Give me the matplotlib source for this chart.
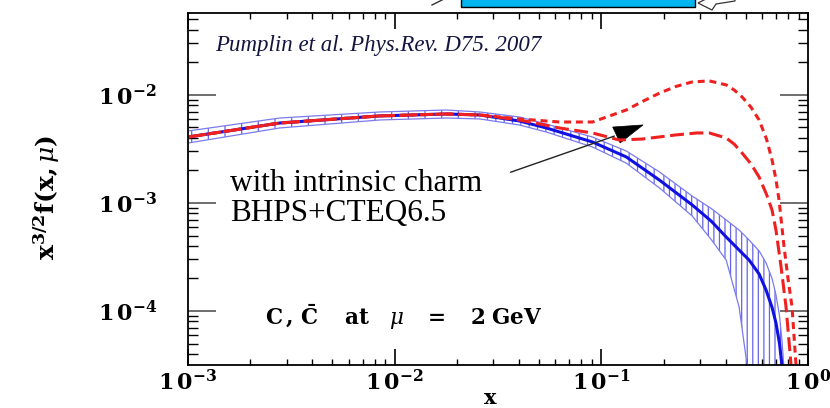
import matplotlib
matplotlib.use("Agg")
import matplotlib.pyplot as plt
from matplotlib.ticker import LogLocator, NullFormatter, FuncFormatter
from matplotlib.patches import Rectangle, Polygon
import numpy as np

# CTEQ6.5 charm distribution x^{3/2} c(x, mu) at mu = 2 GeV, with uncertainty band
x_cteq = [1.0e-3, 2.78e-3, 8.47e-3, 1.78e-2, 2.58e-2, 4.02e-2, 5.42e-2, 9.06e-2,
          0.132, 0.191, 0.275, 0.340, 0.402, 0.464, 0.519, 0.580, 0.627, 0.670, 0.700, 0.728, 0.748, 0.77]
f_cteq = [4.08e-3, 5.5e-3, 6.4e-3, 6.67e-3, 6.53e-3, 5.74e-3, 4.95e-3, 3.67e-3,
          2.67e-3, 1.63e-3, 9.6e-4, 6.8e-4, 4.84e-4, 3.67e-4, 2.96e-4, 2.2e-4, 1.56e-4, 1.08e-4,
          7.74e-5, 5.0e-5, 3.16e-5, 1.2e-5]
f_cteq_hi = [4.64e-3, 6.12e-3, 6.96e-3, 7.26e-3, 6.96e-3, 6.25e-3, 5.38e-3, 4.08e-3,
             3.03e-3, 1.94e-3, 1.16e-3, 8.9e-4, 6.96e-4, 5.62e-4, 4.54e-4, 3.6e-4, 2.78e-4, 2.0e-4,
             1.41e-4, 9.0e-5, 5.4e-5, 2.5e-5]
f_cteq_lo = [3.59e-3, 4.95e-3, 5.87e-3, 6.12e-3, 6.0e-3, 5.27e-3, 4.54e-3, 3.30e-3,
             2.34e-3, 1.38e-3, 7.59e-4, 4.6e-4, 2.96e-4, 1.09e-4, 2.3e-5, 1e-6, 1e-6, 1e-6,
             1e-6, 1e-6, 1e-6, 1e-6]

# BHPS intrinsic charm added to CTEQ6.5 (larger normalisation)
x_bhps_big = [1e-3, 2.78e-3, 8.47e-3, 1.78e-2, 2.58e-2, 4.02e-2, 6.27e-2, 9.06e-2, 0.132,
              0.160, 0.191, 0.230, 0.275, 0.333, 0.402, 0.440, 0.480, 0.530, 0.580, 0.630,
              0.670, 0.700, 0.724, 0.766, 0.800, 0.837, 0.875, 0.89]
f_bhps_big = [4.08e-3, 5.5e-3, 6.4e-3, 6.67e-3, 6.53e-3, 6.0e-3, 5.62e-3, 5.62e-3, 7.26e-3,
              8.8e-3, 1.04e-2, 1.20e-2, 1.32e-2, 1.35e-2, 1.24e-2, 1.11e-2, 9.58e-3, 7.7e-3,
              5.87e-3, 3.9e-3, 2.50e-3, 1.65e-3, 1.07e-3, 3.92e-4, 2.0e-4, 1.09e-4, 3.16e-5, 1.0e-5]

# BHPS intrinsic charm added to CTEQ6.5 (smaller normalisation)
x_bhps_small = [1e-3, 2.78e-3, 8.47e-3, 1.78e-2, 2.58e-2, 4.02e-2, 6.27e-2, 9.06e-2, 0.122,
                0.158, 0.230, 0.290, 0.333, 0.402, 0.440, 0.480, 0.530, 0.580, 0.630, 0.670,
                0.700, 0.740, 0.783, 0.828, 0.84]
f_bhps_small = [4.08e-3, 5.5e-3, 6.4e-3, 6.67e-3, 6.53e-3, 5.87e-3, 4.95e-3, 4.45e-3, 3.83e-3,
                3.91e-3, 4.27e-3, 4.45e-3, 4.45e-3, 4.0e-3, 3.5e-3, 2.90e-3, 2.3e-3, 1.74e-3,
                1.2e-3, 8.6e-4, 5.6e-4, 2.6e-4, 1.09e-4, 3.16e-5, 1.0e-5]

plt.rcParams["mathtext.fontset"] = "dejavuserif"
plt.rcParams["lines.scale_dashes"] = False
plt.rcParams["hatch.linewidth"] = 0.9

W, H = 830, 408
fig = plt.figure(figsize=(W / 100, H / 100), dpi=100)
ax = fig.add_axes([188 / W, 1 - 365 / H, 620 / W, 352 / H])
ax.set_xscale("log")
ax.set_yscale("log")
ax.set_xlim(1e-3, 1.0)
ax.set_ylim(10 ** -4.5, 10 ** -1.241)

blue = "#1010e0"
band_col = "#4a4ae6"
red = "#ee2020"

# uncertainty band, hatched with vertical lines (denser towards large x)
xa = np.array(x_cteq)
lo = np.array(f_cteq_lo)
hi = np.array(f_cteq_hi)
segments = [(0, 5, "|"), (4, 10, "||"), (9, len(xa), "|||")]
for i0, i1, h in segments:
    ax.fill_between(xa[i0:i1], lo[i0:i1], hi[i0:i1], facecolor="none",
                    edgecolor=band_col, hatch=h, linewidth=0, alpha=0.85)
ax.plot(xa, hi, color="#7b7bef", lw=0.9)
ax.plot(xa, lo, color="#7b7bef", lw=0.9)
ax.plot(x_cteq, f_cteq, color=blue, lw=2.2, solid_capstyle="butt")

ax.plot(x_bhps_small, f_bhps_small, color=red, lw=2.2, dashes=(10, 4))
ax.plot(x_bhps_big, f_bhps_big, color=red, lw=2.2, dashes=(5, 3.5))

# axes frame and ticks
for s in ax.spines.values():
    s.set_linewidth(1.3)
ax.xaxis.set_major_locator(LogLocator(base=10, numticks=10))
ax.xaxis.set_minor_locator(LogLocator(base=10, subs=np.arange(2, 10), numticks=20))
ax.yaxis.set_major_locator(LogLocator(base=10, numticks=10))
ax.yaxis.set_minor_locator(LogLocator(base=10, subs=np.arange(2, 10), numticks=20))
ax.xaxis.set_minor_formatter(NullFormatter())
ax.yaxis.set_minor_formatter(NullFormatter())
fmt = FuncFormatter(lambda v, p: r"$\mathbf{1\,0^{%d}}$" % int(round(np.log10(v))))
ax.xaxis.set_major_formatter(fmt)
ax.yaxis.set_major_formatter(fmt)
ax.tick_params(axis="x", which="major", direction="in", length=11.5, width=1.2,
               top=True, bottom=True, labelsize=16, pad=3)
ax.tick_params(axis="x", which="minor", direction="in", length=4, width=1.0, top=True, bottom=True)
ax.tick_params(axis="y", which="major", direction="in", length=20, width=1.2,
               left=True, right=True, labelsize=16, pad=22, color="#555555")
ax.tick_params(axis="y", which="minor", direction="in", length=7, width=1.0, left=True, right=True)

# axis titles
fig.text(47 / W, 1 - 197 / H, r"$\mathbf{x^{3/2}f(x,}\mu\mathbf{)}$", rotation=90,
         ha="center", va="center", fontsize=18)
fig.text(490 / W, 1 - 398 / H, r"$\mathbf{x}$", ha="center", va="center", fontsize=15)

# annotations
ax.text(0.043, 0.909, "Pumplin et al. Phys.Rev. D75. 2007", transform=ax.transAxes,
        family="Liberation Serif", style="italic", fontsize=16.5, color="#141440",
        ha="left", va="center")
ax.text(0.068, 0.517, "with intrinsic charm", transform=ax.transAxes,
        family="Liberation Serif", fontsize=22.5, ha="left", va="center")
ax.text(0.068, 0.429, "BHPS+CTEQ6.5", transform=ax.transAxes,
        family="Liberation Serif", fontsize=22.5, ha="left", va="center")
ax.text(0.124, 0.136,
        r"$\mathbf{C\,,\,\bar{C}}$    $\mathbf{at}$   $\mu$   $\mathbf{=}$   $\mathbf{2\;GeV}$",
        transform=ax.transAxes, fontsize=15.5, ha="left", va="center")

# pointer from the label to the curves
ax.annotate("", xy=(0.692, 0.653), xytext=(0.516, 0.545), xycoords="axes fraction",
            arrowprops=dict(arrowstyle="-", color="#222222", lw=1.0))
ax.add_patch(Polygon([(0.685, 0.676), (0.734, 0.682), (0.697, 0.631)], closed=True,
                     transform=ax.transAxes, facecolor="black", edgecolor="black", lw=0.5))

# slide elements cut at the top edge
fig.add_artist(Rectangle((461 / W, 1 - 7 / H), 234 / W, 9 / H, transform=fig.transFigure,
                         facecolor="#00b4f0", edgecolor="black", lw=1.0))
fig.add_artist(Polygon([(698 / W, 1 - 3 / H), (712 / W, 1 - 10 / H), (716 / W, 1 - 4 / H),
                        (735 / W, 1 - 1 / H), (735 / W, 1.01), (712 / W, 1.01)],
                       closed=True, transform=fig.transFigure, facecolor="white",
                       edgecolor="#333333", lw=0.9))
fig.add_artist(plt.Line2D([432 / W, 442 / W], [1 - 5 / H, 1.0], transform=fig.transFigure,
                          color="#333333", lw=1.0))

fig.savefig("out.png", dpi=100)
